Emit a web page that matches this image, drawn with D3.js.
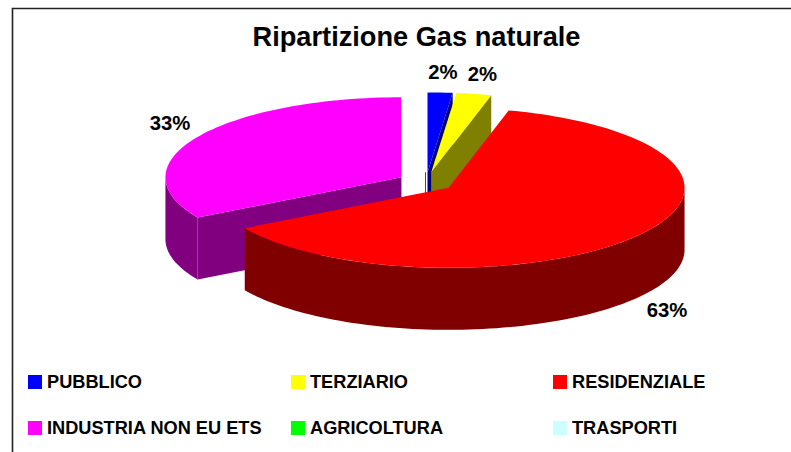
<!DOCTYPE html>
<html>
<head>
<meta charset="utf-8">
<script src="https://cdn.jsdelivr.net/npm/d3@7"></script>
<style>
  html, body { margin: 0; padding: 0; background: #fff; }
  svg { display: block; }
  text { font-family: "Liberation Sans", Arial, sans-serif; font-weight: bold; fill: #000; }
</style>
</head>
<body>
<div class="chart"></div>
<script>
const title = "Ripartizione Gas naturale";
const categories = ["PUBBLICO", "TERZIARIO", "RESIDENZIALE", "INDUSTRIA NON EU ETS", "AGRICOLTURA", "TRASPORTI"];
const values = [1.7, 2.4, 62.5, 33.4, 0.01, 0.01];
const percentLabels = ["2%", "2%", "63%", "33%", "", ""];
const topColors = ["#0000ff", "#ffff00", "#ff0000", "#ff00ff", "#00ff00", "#ccffff"];
const sideColors = ["#000080", "#808000", "#800000", "#800080", "#008000", "#668080"];

const width = 791, height = 452;

// pie geometry
const cx = 426, cy = 182;
const rx = 236, ry = 80, depth = 62;
const explode = 0.12;

const svg = d3.select(".chart").append("svg")
    .attr("width", width)
    .attr("height", height);

// frame runs off the right and bottom of the screenshot
svg.append("path")
    .attr("d", `M12.5,${height}V8.5H${width}`)
    .attr("fill", "none")
    .attr("stroke", "#222")
    .attr("stroke-width", 1.6);

svg.append("text")
    .attr("x", 416.5)
    .attr("y", 46)
    .attr("text-anchor", "middle")
    .attr("font-size", 27.2)
    .text(title);

// === Slices ===
const arcs = d3.pie().sort(null)(values).map((d, i) => ({...d, i: i}));

// a = clockwise from 12 o'clock, flattened into an ellipse
const sx = a => rx * Math.sin(a);
const sy = a => -ry * Math.cos(a);
const line = d3.line();

function apex(d) {
    const mid = (d.startAngle + d.endAngle) / 2;
    return [cx + explode * sx(mid), cy + explode * sy(mid)];
}

function rim(a0, a1, o, dy) {
    const n = Math.max(2, Math.ceil((a1 - a0) / 0.03));
    return d3.range(n + 1).map(k => {
        const a = a0 + (a1 - a0) * k / n;
        return [o[0] + sx(a), o[1] + sy(a) + dy];
    });
}

function cutFace(d, a) {
    const o = apex(d);
    const p = [o[0] + sx(a), o[1] + sy(a)];
    return line([o, p, [p[0], p[1] + depth], [o[0], o[1] + depth]]) + "Z";
}

// back to front: the far slices first, the big red one last
const drawOrder = [3, 5, 4, 0, 1, 2];
const pie = svg.append("g");

drawOrder.forEach(i => {
    const d = arcs[i];
    const o = apex(d);
    const side = sideColors[i];

    // slices too thin to have a face only leave a hairline at the centre
    if (values[i] < 0.1) {
        pie.append("path")
            .attr("d", line([[Math.floor(o[0]) + 0.5, o[1]], [Math.floor(o[0]) + 0.5, o[1] + depth]]))
            .attr("stroke", side)
            .attr("stroke-width", 1);
        return;
    }

    // cut faces, only when they turn towards the viewer
    if (Math.sin(d.startAngle) < 0) {
        pie.append("path").attr("d", cutFace(d, d.startAngle)).attr("fill", side);
    }
    if (Math.sin(d.endAngle) > 0) {
        pie.append("path").attr("d", cutFace(d, d.endAngle)).attr("fill", side);
    }

    // outer wall, the part on the front half of the ellipse
    const w0 = Math.max(d.startAngle, Math.PI / 2);
    const w1 = Math.min(d.endAngle, Math.PI * 1.5);
    if (w1 > w0) {
        const pts = rim(w0, w1, o, 0).concat(rim(w0, w1, o, depth).reverse());
        pie.append("path").attr("d", line(pts) + "Z").attr("fill", side);

        // pale seam where the wall meets a visible cut face
        if (w0 === d.startAngle && Math.sin(d.startAngle) < 0) {
            const e = rim(w0, w0, o, 0)[0];
            pie.append("path")
                .attr("d", line([e, [e[0], e[1] + depth]]))
                .attr("stroke", topColors[i])
                .attr("stroke-opacity", 0.45)
                .attr("stroke-width", 1);
        }
    }

    // top surface
    pie.append("path")
        .attr("d", line([o].concat(rim(d.startAngle, d.endAngle, o, 0))) + "Z")
        .attr("fill", topColors[i]);
});

// === Percent labels ===
const labelAt = [[443, 78.5], [482.5, 80.5], [667, 317], [170, 130]];
svg.selectAll(".pct")
    .data(percentLabels.filter(d => d))
    .enter()
    .append("text")
    .attr("class", "pct")
    .attr("x", (d, i) => labelAt[i][0])
    .attr("y", (d, i) => labelAt[i][1])
    .attr("text-anchor", "middle")
    .attr("font-size", 20.3)
    .text(d => d);

// === Legend ===
const legendX = d3.scaleOrdinal().domain([0, 1, 2]).range([28, 291, 553]);
const legendY = d3.scaleOrdinal().domain([0, 1]).range([375, 421]);

const legend = svg.selectAll(".legend")
    .data(categories)
    .enter()
    .append("g")
    .attr("class", "legend")
    .attr("transform", (d, i) => `translate(${legendX(i % 3)},${legendY(Math.floor(i / 3))})`);

legend.append("rect")
    .attr("width", 14)
    .attr("height", 14)
    .attr("fill", (d, i) => topColors[i]);

legend.append("text")
    .attr("x", 19)
    .attr("y", 12.7)
    .attr("font-size", 18.2)
    .text(d => d);
</script>
</body>
</html>
